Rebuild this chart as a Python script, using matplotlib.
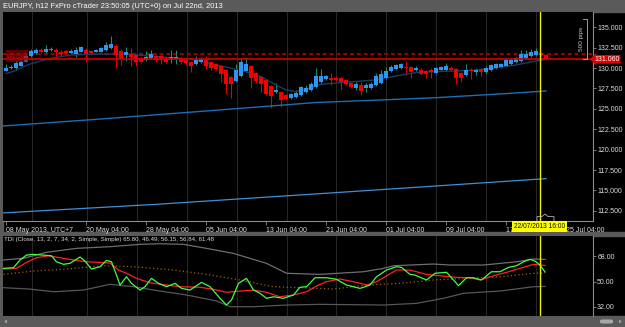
import numpy as np
import matplotlib
matplotlib.use("Agg")
import matplotlib.pyplot as plt
from matplotlib.patches import Rectangle, Polygon, FancyBboxPatch
from matplotlib.ticker import FormatStrFormatter

plt.rcParams['font.family'] = ['Liberation Sans', 'DejaVu Sans']

# EURJPY h12, bar 0 = 08 May 2013 04:00 (UTC+7)
opens = [129.70, 129.98, 129.98, 130.29, 130.80, 131.52, 131.85, 132.25, 132.00, 132.20,
         132.25, 132.00, 132.10, 131.85, 131.77, 132.00, 132.25, 132.10, 132.00, 132.00,
         132.20, 132.43, 132.75, 132.10, 131.60, 131.77, 131.60, 131.20, 130.95, 131.20,
         131.52, 131.45, 131.20, 131.10, 131.10, 131.20, 131.03, 130.78, 130.54, 130.71,
         130.96, 130.78, 130.47, 130.22, 129.73, 128.91, 128.42, 129.07, 129.64, 130.22,
         129.40, 128.91, 128.50, 127.77, 127.10, 127.11, 126.70, 126.38, 126.47, 126.70,
         127.04, 127.28, 127.69, 128.26, 128.67, 128.83, 128.83, 128.75, 128.50, 128.18,
         127.60, 127.93, 127.53, 127.60, 127.93, 128.18, 128.75, 129.65, 129.90, 130.05,
         130.14, 130.14, 129.80, 129.80, 129.65, 129.80, 129.40, 129.73, 129.80, 130.05,
         129.90, 129.40, 129.16, 129.80, 129.56, 129.90, 129.56, 129.73, 130.05, 130.14,
         130.30, 130.47, 130.79, 130.87, 131.20, 131.45, 131.60, 131.85, 131.60]
highs = [130.50, 130.38, 130.88, 131.00, 131.60, 132.30, 132.50, 132.50, 132.83, 132.55,
         132.40, 132.20, 132.25, 132.30, 132.60, 132.75, 132.40, 132.20, 132.35, 132.55,
         133.24, 133.90, 132.95, 132.30, 132.60, 132.40, 131.75, 131.35, 132.10, 132.25,
         131.65, 131.60, 131.30, 132.18, 132.20, 131.40, 131.20, 130.90, 131.45, 131.30,
         131.45, 130.90, 130.60, 130.35, 129.85, 129.05, 130.54, 131.28, 131.28, 130.40,
         129.55, 129.05, 128.65, 127.90, 128.18, 127.25, 126.85, 126.90, 127.32, 127.85,
         127.90, 128.30, 129.98, 129.90, 129.20, 129.40, 129.00, 128.90, 128.65, 128.30,
         128.30, 128.30, 128.20, 128.30, 129.40, 129.80, 130.14, 130.38, 130.50, 130.60,
         130.87, 130.30, 130.20, 129.95, 129.80, 130.00, 130.15, 130.30, 130.63, 130.20,
         130.05, 129.55, 130.47, 130.00, 130.00, 130.05, 130.20, 130.55, 130.65, 130.60,
         131.20, 131.20, 131.40, 132.18, 132.20, 132.35, 132.43, 132.00, 131.70]
lows = [129.60, 129.90, 129.77, 130.20, 130.70, 131.40, 131.75, 131.80, 131.90, 132.15,
        131.20, 131.50, 131.70, 131.80, 131.36, 131.95, 130.80, 131.75, 131.95, 131.95,
        132.10, 132.30, 130.05, 130.38, 130.87, 130.20, 130.30, 130.60, 130.85, 131.10,
        130.80, 130.50, 130.65, 130.63, 130.55, 130.50, 130.40, 129.56, 130.40, 130.60,
        129.90, 129.80, 129.73, 128.34, 126.86, 126.30, 128.30, 128.90, 129.50, 127.53,
        128.20, 127.10, 126.70, 125.08, 126.95, 125.24, 126.05, 126.25, 126.35, 126.55,
        126.90, 127.15, 127.55, 128.10, 128.50, 127.95, 128.40, 127.36, 127.90, 127.50,
        127.30, 126.70, 127.10, 127.45, 127.80, 128.05, 128.60, 129.50, 129.75, 129.90,
        129.16, 128.75, 129.60, 129.10, 128.75, 128.75, 129.25, 129.60, 129.70, 129.60,
        128.10, 128.26, 129.00, 128.67, 129.16, 129.00, 129.45, 129.60, 129.90, 130.00,
        130.20, 130.35, 130.65, 130.75, 131.10, 131.30, 131.50, 131.45, 130.95]
closes = [130.05, 130.17, 130.66, 130.78, 131.45, 132.10, 132.18, 131.95, 132.30, 132.35,
          131.95, 131.77, 131.85, 132.10, 132.25, 132.60, 131.77, 131.85, 132.25, 132.43,
          132.83, 133.00, 131.60, 131.28, 131.94, 131.36, 130.78, 130.71, 131.36, 131.77,
          131.03, 130.96, 130.79, 131.36, 131.36, 130.71, 130.63, 130.29, 131.03, 131.12,
          130.22, 129.98, 129.90, 129.32, 128.09, 128.09, 129.80, 130.78, 130.47, 128.75,
          128.42, 128.09, 126.79, 126.62, 127.28, 126.13, 126.22, 126.79, 126.95, 127.69,
          127.60, 128.02, 129.00, 129.07, 129.00, 128.58, 128.58, 128.26, 128.09, 127.69,
          128.10, 127.20, 127.93, 128.10, 129.00, 129.24, 129.65, 130.14, 130.38, 130.47,
          129.98, 129.56, 129.98, 129.32, 129.24, 129.56, 129.98, 130.14, 130.22, 129.73,
          128.83, 128.83, 129.81, 129.65, 129.80, 129.56, 130.05, 130.38, 130.47, 130.47,
          130.96, 131.03, 131.20, 131.69, 131.77, 132.01, 132.10, 131.60, 131.06]

# moving averages on the price chart (bar, price)
ma_fast_bars = [0, 1, 2, 3, 5, 7, 9, 13, 19, 25, 31, 37, 42, 44, 48, 51, 54, 56, 58, 61,
                63, 68, 70, 74, 78, 82, 86, 90, 94, 98, 102, 106, 108]
ma_fast_vals = [129.34, 129.50, 129.73, 130.05, 130.54, 130.87, 131.20, 131.60, 131.73, 131.67,
                131.36, 131.10, 130.38, 130.14, 129.56, 128.95, 127.93, 127.32, 127.11, 127.60,
                128.02, 128.26, 128.36, 128.55, 129.03, 129.46, 129.56, 129.65, 129.77, 130.01,
                130.38, 130.87, 131.08]
ma_slow_bars = [-0.6, 19, 40, 62, 75, 86, 101, 108]
ma_slow_vals = [122.90, 123.76, 124.74, 125.78, 126.09, 126.37, 126.91, 127.19]
ma_long_bars = [-0.6, 30, 70, 108]
ma_long_vals = [112.25, 113.30, 114.90, 116.45]

last_price = 131.06
ask_line = 131.73

# TDI (Close, 13, 2, 7, 34, 2, Simple, Simple)
rsi_bars = [-0.5, 1.5, 2.8, 4.1, 5.4, 7.4, 9.1, 10.1, 11.5, 12.8, 14.8, 15.8, 17.1, 18.8, 20.1,
            21.1, 22.1, 22.8, 24.1, 25.1, 26.8, 27.8, 29.1, 30.5, 32.1, 33.8, 35.1, 36.8, 39.1,
            40.8, 42.8, 44.1, 45.1, 46.5, 48.1, 49.5, 50.8, 52.1, 53.5, 55.5, 57.5, 58.8, 60.1,
            61.8, 64.1, 66.1, 68.1, 70.8, 72.8, 74.1, 76.1, 78.1, 79.1, 80.8, 81.8, 84.1, 85.8,
            88.1, 89.5, 90.5, 92.1, 93.5, 95.1, 97.1, 98.8, 100.5, 102.1, 103.5, 104.8, 105.8,
            106.8, 107.8]
rsi_vals = [59.4, 59.9, 65.4, 68.9, 69.4, 68.9, 68.4, 64.1, 62.3, 63.0, 67.5, 64.6, 58.9, 60.6, 65.1,
            64.1, 54.6, 47.5, 53.4, 48.7, 43.9, 46.3, 52.3, 48.7, 46.3, 48.7, 45.1, 43.9, 49.4,
            46.3, 38.0, 33.2, 36.8, 48.7, 52.3, 43.9, 41.6, 38.0, 39.1, 38.0, 40.4, 45.9, 46.3,
            52.7, 52.7, 51.6, 47.5, 45.1, 47.5, 53.4, 58.2, 60.6, 60.1, 55.1, 54.6, 51.1, 55.9,
            56.6, 51.1, 47.0, 52.7, 52.7, 51.1, 57.0, 57.0, 60.1, 61.3, 64.1, 65.9, 64.6,
            61.8, 56.84]
sig_bars = [-0.5, 2.1, 4.1, 6.1, 8.5, 10.8, 13.5, 16.1, 18.8, 20.8, 22.5, 24.1, 26.1, 28.8, 32.1,
            34.8, 38.8, 41.5, 44.1, 46.8, 49.5, 52.1, 54.8, 57.5, 60.1, 62.5, 64.1, 66.8, 70.1,
            72.1, 74.1, 76.1, 78.1, 80.8, 84.1, 86.8, 90.1, 92.8, 94.8, 97.5, 100.1, 102.8,
            105.5, 107.8]
sig_vals = [58.9, 59.4, 63.7, 67.0, 68.4, 67.0, 65.4, 64.1, 63.7, 63.2, 58.2, 55.9, 52.3, 49.1, 47.5,
            46.3, 45.9, 44.4, 42.3, 43.2, 43.9, 42.3, 39.1, 40.4, 42.7, 47.5, 49.9, 51.8, 49.4,
            47.5, 49.9, 54.1, 58.2, 58.2, 55.1, 54.1, 53.0, 52.7, 51.1, 54.1, 56.6, 59.4,
            62.3, 61.48]
up_bars = [-0.5, 3.5, 8.1, 14.1, 20.8, 26.8, 30.8, 35.5, 40.1, 45.5, 52.1, 56.1, 62.8, 71.5,
           75.5, 77.5, 85.5, 88.8, 95.5, 102.1, 105.5, 107.8]
up_vals = [65.4, 66.6, 70.9, 73.7, 74.9, 76.6, 77.0, 76.6, 73.7, 70.1, 63.0, 55.9, 55.1, 57.0,
           59.4, 61.3, 62.5, 61.8, 61.8, 64.1, 66.1, 65.80]
lo_bars = [-0.5, 4.8, 9.5, 15.5, 20.8, 25.5, 30.8, 36.1, 42.1, 44.8, 49.5, 56.1, 62.8, 75.5,
           82.1, 87.5, 91.5, 98.8, 105.5, 107.8]
lo_vals = [45.6, 44.6, 42.7, 43.9, 48.0, 46.3, 43.2, 40.4, 36.1, 32.0, 32.0, 33.2, 33.7, 33.2,
           34.4, 38.0, 41.6, 43.2, 46.3, 46.49]
mid_bars = [-0.5, 5.5, 12.1, 19.5, 25.5, 33.5, 40.1, 46.8, 53.5, 62.8, 65.5, 72.1, 78.8, 85.5,
            92.1, 98.8, 105.5, 107.8]
mid_vals = [55.1, 57.5, 58.9, 61.3, 60.6, 58.2, 55.1, 51.1, 46.3, 45.1, 44.6, 47.5, 48.7, 51.1,
            52.3, 53.4, 55.9, 56.15]

date_bars = [0, 16, 28, 40, 52, 64, 76, 88, 100, 112]
date_labels = ['08 May 2013, UTC+7', '20 May 04:00', '28 May 04:00', '05 Jun 04:00',
               '13 Jun 04:00', '21 Jun 04:00', '01 Jul 04:00', '09 Jul 04:00',
               '17 Jul 04:00', '25 Jul 04:00']
grid_bars = [5.1, 16.1, 26.1, 36.1, 46.1, 56.1, 65.9, 75.9, 85.9, 95.9, 105.9]
cursor_bar = 106.8

W, H = 625, 327
def fx(px):
    return px / W
def fy(py):
    return 1 - py / H

fig = plt.figure(figsize=(W / 100, H / 100), dpi=100, facecolor='black')
CHROME = '#5a5a5a'
TXT = '#dcdcdc'
AXC = '#8c8c8c'

# window chrome
for x0, y0, w, h in [(0, 0, W, 12), (0, 232, W, 3.5), (0, 316, W, 11), (0, 0, 2.5, H)]:
    fig.add_artist(Rectangle((fx(x0), fy(y0 + h)), w / W, h / H, color=CHROME,
                             transform=fig.transFigure, zorder=0))
fig.text(fx(3), fy(6), 'EURJPY, h12 FxPro cTrader 23:50:05 (UTC+0) on Jul 22nd, 2013',
         color='white', fontsize=5.4, va='center', ha='left')

# ---- price panel
ax = fig.add_axes([fx(3), fy(221), 590 / W, 209 / H])
ax.set_facecolor('black')
ax.set_xlim(-0.6, 117.4)
ax.set_ylim(111.26, 136.87)
for g in grid_bars:
    ax.axvline(g, color='#262626', lw=0.8, zorder=0)

o = np.array(opens); h_ = np.array(highs); l_ = np.array(lows); c = np.array(closes)
x = np.arange(len(o))
up = c >= o
body_lo = np.minimum(o, c)
body_h = np.maximum(np.abs(c - o), 0.06)
ax.vlines(x[up], l_[up], h_[up], color='#1f8a66', lw=0.8, zorder=2)
ax.vlines(x[~up], l_[~up], h_[~up], color='#e00000', lw=0.8, zorder=2)
ax.bar(x[up], body_h[up], bottom=body_lo[up], width=0.62, color='#2d96f2', zorder=3)
ax.bar(x[~up], body_h[~up], bottom=body_lo[~up], width=0.62, color='#f20000', zorder=3)

ax.plot(ma_fast_bars, ma_fast_vals, color='#1b3c60', lw=1.0, zorder=2)
ax.plot(ma_slow_bars, ma_slow_vals, color='#1e6cb4', lw=1.0, zorder=2)
ax.plot(ma_long_bars, ma_long_vals, color='#3d8fd6', lw=0.9, zorder=2)

ax.axhline(ask_line, color='#9a0000', lw=1.4, ls=(0, (2, 1.5)), zorder=1)
ax.axhline(last_price, color='#d40000', lw=1.2, zorder=4)
ax.axvline(cursor_bar, color='#f0f000', lw=1.0, zorder=5)

# 500 pips ruler
ax.plot([115.3, 116.1, 116.1, 115.3], [last_price + 5, last_price + 5, last_price, last_price],
        color='#b4b4b4', lw=0.6, zorder=5)
ax.text(115.0, 133.6, '500 pips', rotation=90, ha='center', va='center',
        fontsize=4.6, color='#c8c8c8', zorder=5)

ax.yaxis.tick_right()
ax.set_yticks(np.arange(112.5, 135.1, 2.5))
ax.yaxis.set_major_formatter(FormatStrFormatter('%.3f'))
ax.tick_params(axis='y', colors=AXC, labelcolor=TXT, length=2, width=0.6, pad=1, labelsize=5)
ax.set_xticks(date_bars)
ax.set_xticklabels(date_labels, ha='left')
ax.tick_params(axis='x', colors=AXC, labelcolor=TXT, length=3, width=0.6, pad=1.5, labelsize=5.0)
for s in ['top', 'left']:
    ax.spines[s].set_visible(False)
for s in ['right', 'bottom']:
    ax.spines[s].set_color(AXC)
    ax.spines[s].set_linewidth(0.8)

# ---- TDI panel
ax2 = fig.add_axes([fx(3), fy(316), 590 / W, 80.5 / H])
ax2.set_facecolor('black')
ax2.set_xlim(-0.6, 117.4)
ax2.set_ylim(25.36, 82.9)
for g in grid_bars:
    ax2.axvline(g, color='#262626', lw=0.8, zorder=0)
ax2.plot(up_bars, up_vals, color='#6e6e6e', lw=0.9)
ax2.plot(lo_bars, lo_vals, color='#575757', lw=0.9)
ax2.plot(mid_bars, mid_vals, color='#a0600a', lw=0.9, ls=(0, (1, 2)))
ax2.plot(sig_bars, sig_vals, color='#ff2020', lw=0.9)
ax2.plot(rsi_bars, rsi_vals, color='#40ff40', lw=0.9)
ax2.axvline(cursor_bar, color='#f0f000', lw=1.0, zorder=5)
ax2.yaxis.tick_right()
ax2.set_yticks([32, 50, 68])
ax2.yaxis.set_major_formatter(FormatStrFormatter('%.2f'))
ax2.tick_params(axis='y', colors=AXC, labelcolor=TXT, length=2, width=0.6, pad=1, labelsize=5)
ax2.set_xticks([])
for s in ['top', 'left', 'bottom']:
    ax2.spines[s].set_visible(False)
ax2.spines['right'].set_color(AXC)
ax2.spines['right'].set_linewidth(0.8)
fig.text(fx(4), fy(239.5),
         'TDI (Close, 13, 2, 7, 34, 2, Simple, Simple) 65.80, 46.49, 56.15, 56.84, 61.48',
         color=TXT, fontsize=4.4, va='center', ha='left')

# price tags
fig.text(fx(607), fy(59.3), '131.060', ha='center', va='center', fontsize=5, color='white',
         bbox=dict(boxstyle='larrow,pad=0.12', fc='#e00000', ec='none'))
fig.add_artist(Rectangle((fx(6), fy(62)), 22 / W, 12 / H, fc='#a00000', alpha=0.6,
                         transform=fig.transFigure, zorder=4))
fig.text(fx(17), fy(56), '131.060', ha='center', va='center', fontsize=4.5,
         color='#ff6060', alpha=0.6)
fig.text(fx(539.5), fy(226.7), '22/07/2013 16:00', ha='center', va='center', fontsize=4.8,
         color='black', bbox=dict(boxstyle='square,pad=0.3', fc='#ffff00', ec='none'))
fig.add_artist(Polygon([(fx(537), fy(221.3)), (fx(537), fy(216.5)), (fx(542), fy(216.5)),
                        (fx(545), fy(214)), (fx(548), fy(216.5)), (fx(554), fy(216.5)),
                        (fx(554), fy(221.3))], closed=False, fill=False, ec='#d0d0d0',
                       lw=0.5, transform=fig.transFigure, zorder=6))

# scroll bar
fig.add_artist(FancyBboxPatch((fx(600), fy(323.5)), 13 / W, 4 / H,
                              boxstyle='round,pad=0,rounding_size=0.004', fc='#a8a8a8',
                              ec='none', transform=fig.transFigure, zorder=2))
fig.add_artist(Polygon([(fx(4), fy(321.5)), (fx(7), fy(319.5)), (fx(7), fy(323.5))],
                       fc='#a0a0a0', ec='none', transform=fig.transFigure, zorder=2))
fig.add_artist(Polygon([(fx(622), fy(321.5)), (fx(619), fy(319.5)), (fx(619), fy(323.5))],
                       fc='#a0a0a0', ec='none', transform=fig.transFigure, zorder=2))

fig.savefig('out.png', dpi=100, facecolor='black')
